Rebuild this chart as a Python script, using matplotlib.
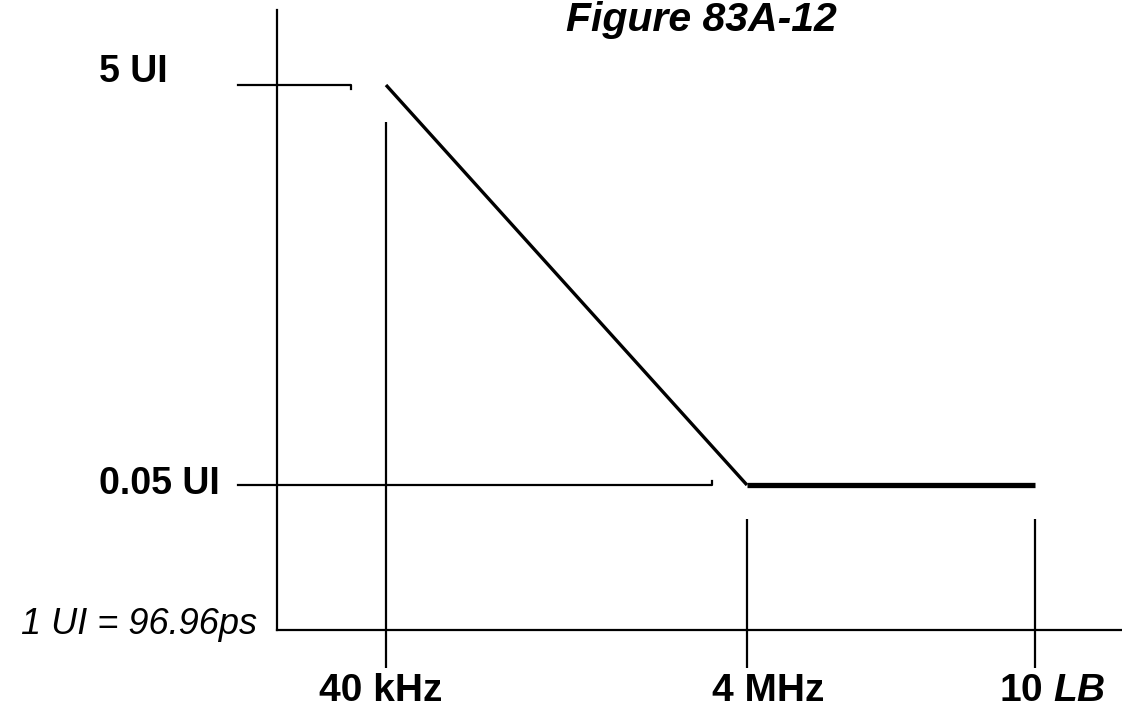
import matplotlib.pyplot as plt

plt.rcParams["font.family"] = ["Liberation Sans", "DejaVu Sans"]
plt.rcParams["mathtext.fontset"] = "custom"
plt.rcParams["mathtext.bfit"] = "Liberation Sans:bold:italic"

title = "Figure 83A-12"
ui_note = "1 UI = 96.96ps"

# corner frequencies of the tolerance mask (Hz) and their labels
freqs = [4e4, 4e6, 1.58e8]
freq_labels = ["40 kHz", "4 MHz", r"10 $\mathbfit{LB}$"]

# amplitude levels (UI)
amps = [5, 0.05]
amp_labels = ["5 UI", "0.05 UI"]

# mask: -20 dB/dec from 40 kHz down to 4 MHz, then flat
mask_freq = [4e4, 4e6, 1.58e8]
mask_amp = [5, 0.05, 0.05]

origin = (1e4, 0.0094)

fig = plt.figure(figsize=(11.22, 7.09), dpi=100)
ax = fig.add_axes([0, 0, 1, 1])
ax.set_xscale("log")
ax.set_yscale("log")
ax.set_xlim(10 ** 2.4635, 10 ** 8.680)
ax.set_ylim(10 ** -2.421, 10 ** 1.124)
ax.set_xticks([])
ax.set_yticks([])
ax.minorticks_off()
ax.tick_params(which="both", length=0, labelleft=False, labelbottom=False)

for side in ["top", "right"]:
    ax.spines[side].set_visible(False)
ax.spines["left"].set_position(("data", origin[0]))
ax.spines["left"].set_bounds(origin[1], 11.9)
ax.spines["bottom"].set_position(("data", origin[1]))
ax.spines["bottom"].set_bounds(origin[0], 10 ** 8.680)
for side in ["left", "bottom"]:
    ax.spines[side].set_linewidth(1.6)
    ax.spines[side].set_color("black")

# the mask itself
ax.plot(mask_freq[:2], mask_amp[:2], color="black", lw=2.4,
        solid_capstyle="butt")
ax.plot(mask_freq[1:], mask_amp[1:], color="black", lw=3.8,
        solid_capstyle="butt")

# level guides with a small hook at their ends
ref_start = 6.05e3
ref_end = [2.56e4, 2.56e6]
hook = [1 / 1.05, 1.05]
for a, xe, h in zip(amps, ref_end, hook):
    ax.plot([ref_start, xe, xe], [a, a, a * h], color="black", lw=1.6)

# frequency drop lines
tick_top = [3.27, 0.0338, 0.0338]
tick_bottom = 0.00608
ax.vlines(freqs, tick_bottom, tick_top, color="black", lw=1.6)

# labels
amp_dy = [2, -6.5]
for a, lbl, dy in zip(amps, amp_labels, amp_dy):
    ax.annotate(lbl, xy=(1.03e3, a), xytext=(0, dy), textcoords="offset points",
                ha="left", va="baseline", fontsize=27, fontweight="bold")

freq_dx = [-4, 15, 12]
for f, lbl, dx in zip(freqs, freq_labels, freq_dx):
    ax.annotate(lbl, xy=(f, tick_bottom), xytext=(dx, -24),
                textcoords="offset points", ha="center", va="baseline",
                fontsize=28, fontweight="bold")

fig.text(257 / 1122, 1 - 634 / 709, ui_note, fontsize=26, style="italic",
         ha="right", va="baseline")
fig.text(701 / 1122, 1 - 31 / 709, title, fontsize=29.5, fontweight="bold",
         style="italic", ha="center", va="baseline")

fig.savefig("out.png", dpi=100)
